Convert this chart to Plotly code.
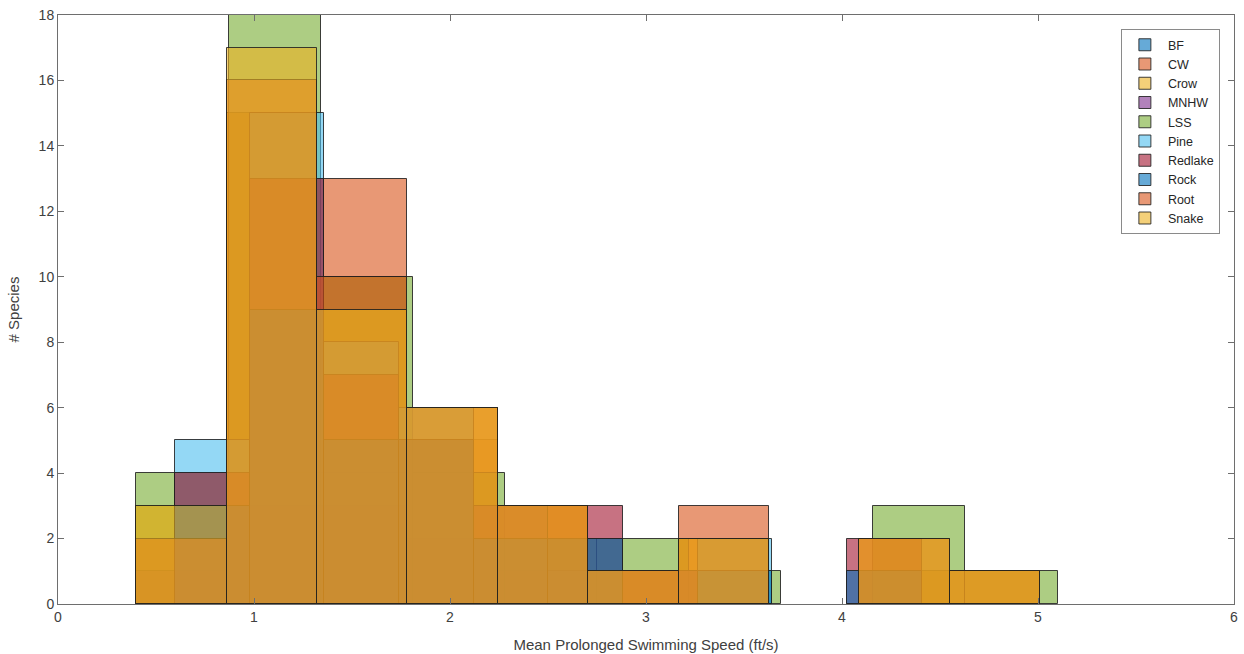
import plotly.graph_objects as go

# ---------------- data ----------------
series_names = ["BF", "CW", "Crow", "MNHW", "LSS", "Pine", "Redlake", "Rock", "Root", "Snake"]

# histogram bin settings (first edge, bin width) in ft/s
bin_start = {"BF": 0.40, "CW": 0.40, "Crow": 0.40, "MNHW": 0.40, "LSS": 0.40,
             "Pine": 0.597, "Redlake": 0.597, "Rock": 0.597, "Root": 0.40, "Snake": 0.40}
bin_width = {"BF": 0.461, "CW": 0.461, "Crow": 0.461, "MNHW": 0.461, "LSS": 0.470,
             "Pine": 0.381, "Redlake": 0.381, "Rock": 0.381, "Root": 0.461, "Snake": 0.461}

# counts per bin (# species)
counts_BF = [1, 4, 3, 2, 1, 0, 1, 0, 0, 0]
counts_CW = [2, 15, 13, 5, 2, 1, 3, 0, 1, 0]
counts_Crow = [3, 15, 9, 6, 3, 1, 2, 0, 1, 1]
counts_MNHW = [1, 3, 4, 2, 1, 0, 1, 0, 0, 0]
counts_LSS = [4, 18, 10, 4, 2, 2, 1, 0, 3, 1]
counts_Pine = [5, 15, 8, 6, 3, 1, 1, 2]
counts_Redlake = [4, 13, 7, 5, 3, 3, 1, 0, 0, 2]
counts_Rock = [3, 9, 5, 5, 2, 2, 0, 1, 0, 1]
counts_Root = [2, 16, 10, 6, 3, 1, 2, 0, 2, 1]
counts_Snake = [3, 17, 9, 6, 3, 1, 2, 0, 2, 1]

counts = {"BF": counts_BF, "CW": counts_CW, "Crow": counts_Crow, "MNHW": counts_MNHW,
          "LSS": counts_LSS, "Pine": counts_Pine, "Redlake": counts_Redlake,
          "Rock": counts_Rock, "Root": counts_Root, "Snake": counts_Snake}

x_ticks = [0, 1, 2, 3, 4, 5, 6]
y_ticks = [0, 2, 4, 6, 8, 10, 12, 14, 16, 18]

# ---------------- styles ----------------
colors = {"BF": "0,114,189", "CW": "217,83,25", "Crow": "237,177,32", "MNHW": "126,47,142",
          "LSS": "119,172,48", "Pine": "77,190,238", "Redlake": "162,20,47",
          "Rock": "0,114,189", "Root": "217,83,25", "Snake": "237,177,32"}

fig = go.Figure()
for name in series_names:
    c = counts[name]
    w = bin_width[name]
    s = bin_start[name]
    xs, ys = [], []
    for i, v in enumerate(c):
        if v > 0:
            xs.append(s + w * (i + 0.5))
            ys.append(v)
    fig.add_trace(go.Bar(
        x=xs, y=ys, width=[w] * len(xs), name=name,
        marker=dict(color=f"rgba({colors[name]},0.6)",
                    line=dict(color="rgba(30,30,30,0.85)", width=1)),
    ))

axis_common = dict(
    showline=True, linecolor="#6e6e6e", linewidth=1, mirror="ticks",
    ticks="inside", ticklen=6, tickcolor="#6e6e6e", tickwidth=1,
    showgrid=False, zeroline=False, automargin=False,
    tickfont=dict(family="Liberation Sans, Arial, sans-serif", size=14, color="#404040"),
)

fig.update_layout(
    width=1244, height=654,
    barmode="overlay",
    bargap=0,
    paper_bgcolor="white", plot_bgcolor="white",
    margin=dict(l=58, r=10, t=15, b=50),
    font=dict(family="Liberation Sans, Arial, sans-serif", color="#404040"),
    xaxis=dict(range=[0, 6], tickvals=x_ticks, **axis_common,
               title=dict(text="Mean Prolonged Swimming Speed (ft/s)",
                          font=dict(size=15, color="#404040"))),
    yaxis=dict(range=[0, 18], tickvals=y_ticks, **axis_common,
               title=dict(text="# Species", font=dict(size=15, color="#404040"))),
    legend=dict(x=0.988, y=0.976, xanchor="right", yanchor="top",
                bgcolor="white", bordercolor="#8a8a8a", borderwidth=1,
                font=dict(size=12.5, color="#262626"), tracegroupgap=0,
                itemwidth=36),
    showlegend=True,
)

fig.write_html("out.html",
               config={"displayModeBar": False},
               post_script="document.body.style.margin='0';document.body.style.overflow='hidden';")
